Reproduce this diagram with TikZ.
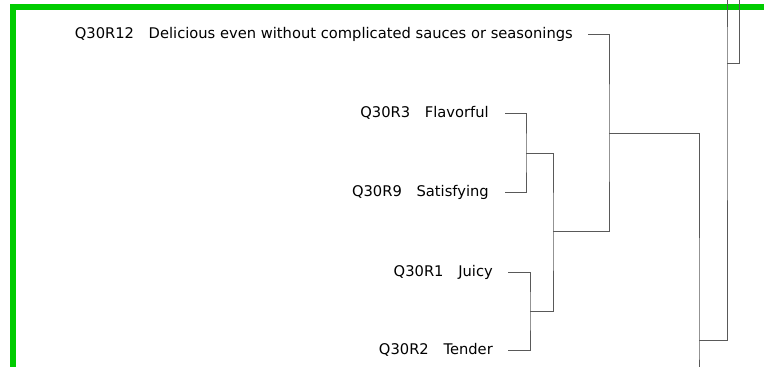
\documentclass[tikz,border=0pt]{standalone}
\usepackage{fontspec}
\setmainfont{DejaVu Sans}
\usetikzlibrary{positioning}

\begin{document}
\begin{tikzpicture}[
			x=1pt, y=-1pt,
			frame/.style={draw=green!80!black, line width=5.5pt},
			link/.style={draw=black!65, line width=1pt},
			lbl/.style={inner sep=0pt, text height=10.7pt, text depth=0pt, font=\fontsize{14.7}{17}\selectfont, yshift=1pt}
			]
			
			% Výřez obrázku
			\path[use as bounding box, clip] (0,0) rectangle (764,367);
			
			% Zelený rámeček (pokračuje mimo výřez)
			\draw[frame] (13,7) rectangle (820,420);
			
			% Listy dendrogramu
			\coordinate (r12) at (588,34);
			\coordinate (r3) at (505,113);
			\coordinate (r9) at (505,192);
			\coordinate (r1) at (508,272);
			\coordinate (r2) at (508,350);
			
			% Popisky listů
			\node[lbl, left=15pt of r12] (l12) {Q30R12\quad Delicious even without complicated sauces or seasonings};
			\node[lbl, left=16pt of r3] (l3) {Q30R3\quad Flavorful};
			\node[lbl, left=16pt of r9] (l9) {Q30R9\quad Satisfying};
			\node[lbl, left=15pt of r1] (l1) {Q30R1\quad Juicy};
			\node[lbl, left=15pt of r2] (l2) {Q30R2\quad Tender};
			
			% Spojení shluků
			\coordinate (j39) at (526,153);
			\coordinate (j12) at (530,311);
			\coordinate (j3912) at (553,231);
			\coordinate (jA) at (609,133);
			\coordinate (jB) at (699,340);
			\coordinate (jC) at (727,63);
			\coordinate (jD) at (739,-10);
			\coordinate (offB) at (699,380);
			\coordinate (offC) at (727,-10);
			
			\draw[link] (r3) -| (j39) |- (r9);
			\draw[link] (r1) -| (j12) |- (r2);
			\draw[link] (j39) -| (j3912) |- (j12);
			\draw[link] (r12) -| (jA) |- (j3912);
			\draw[link] (jA) -| (jB) -- (offB);
			\draw[link] (jB) -| (jC) -- (offC);
			\draw[link] (jC) -| (jD);
			
		\end{tikzpicture}
\end{document}
